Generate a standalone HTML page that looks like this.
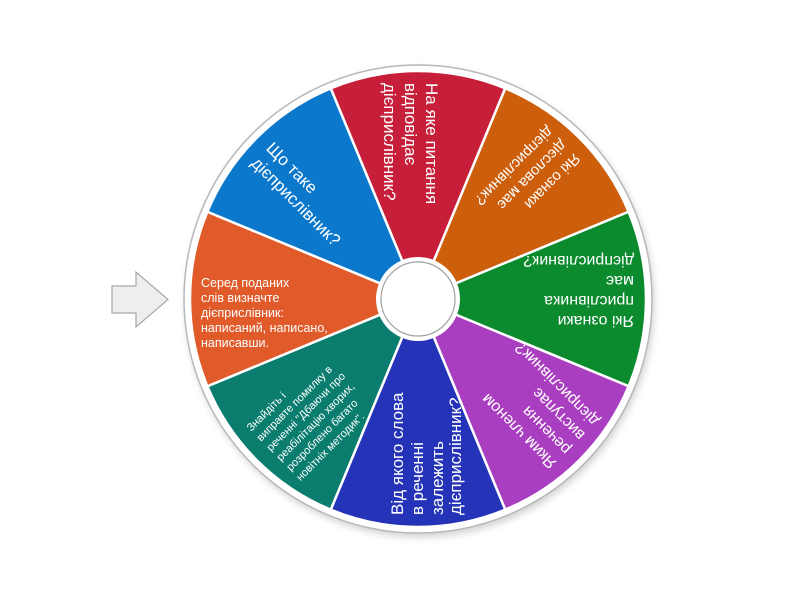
<!DOCTYPE html>
<html><head><meta charset="utf-8">
<style>
html,body{margin:0;padding:0;background:#fff;width:800px;height:600px;overflow:hidden}
svg text{font-family:"Liberation Sans","DejaVu Sans",sans-serif;fill:#fff}
</style></head>
<body>
<svg width="800" height="600" viewBox="0 0 800 600" xmlns="http://www.w3.org/2000/svg">
<defs>
<filter id="sh" x="-20%" y="-20%" width="140%" height="140%"><feGaussianBlur stdDeviation="4"/></filter>
</defs>
<polygon points="112,286 136,286 136,272 168,299.5 136,327 136,313 112,313" fill="#eeeeee" stroke="#a8a8a8" stroke-width="1.2"/>
<circle cx="420" cy="303" r="234" fill="#000" opacity="0.18" filter="url(#sh)"/>
<circle cx="418" cy="299" r="234" fill="#fff" stroke="#b8b8b8" stroke-width="1.5"/>
<g stroke="#fff" stroke-width="2.5">
<path d="M418,299 L330.75,88.36 A228,228 0 0 1 505.25,88.36 Z" fill="#c71e3a"/>
<path d="M418,299 L330.75,88.36 A228,228 0 0 1 505.25,88.36 Z" fill="#cc5e0c" transform="rotate(45 418 299)"/>
<path d="M418,299 L330.75,88.36 A228,228 0 0 1 505.25,88.36 Z" fill="#0b8a2e" transform="rotate(90 418 299)"/>
<path d="M418,299 L330.75,88.36 A228,228 0 0 1 505.25,88.36 Z" fill="#a93fc0" transform="rotate(135 418 299)"/>
<path d="M418,299 L330.75,88.36 A228,228 0 0 1 505.25,88.36 Z" fill="#2533b8" transform="rotate(180 418 299)"/>
<path d="M418,299 L330.75,88.36 A228,228 0 0 1 505.25,88.36 Z" fill="#0b7d6e" transform="rotate(225 418 299)"/>
<path d="M418,299 L330.75,88.36 A228,228 0 0 1 505.25,88.36 Z" fill="#e05a2a" transform="rotate(270 418 299)"/>
<path d="M418,299 L330.75,88.36 A228,228 0 0 1 505.25,88.36 Z" fill="#0b78cc" transform="rotate(315 418 299)"/>
</g>
<g transform="rotate(90 418 299)" font-size="17">
<text x="202" y="291">На яке питання</text>
<text x="202" y="312">відповідає</text>
<text x="202" y="333">дієприслівник?</text>
</g>
<g transform="rotate(135 418 299)" font-size="15">
<text x="204" y="292">Які ознаки</text>
<text x="204" y="311">дієслова має</text>
<text x="204" y="330">дієприслівник?</text>
</g>
<g transform="rotate(180 418 299)" font-size="16">
<text x="202" y="282">Які ознаки</text>
<text x="202" y="302">прислівника</text>
<text x="202" y="322">має</text>
<text x="202" y="342">дієприслівник?</text>
</g>
<g transform="rotate(225 418 299)" font-size="16">
<text x="204" y="282">Яким членом</text>
<text x="204" y="302">речення</text>
<text x="204" y="322">виступає</text>
<text x="204" y="342">дієприслівник?</text>
</g>
<g transform="rotate(270 418 299)" font-size="17">
<text x="202" y="284">Від якого слова</text>
<text x="202" y="304">в реченні</text>
<text x="202" y="324">залежить</text>
<text x="202" y="342">дієприслівник?</text>
</g>
<g transform="rotate(315 418 299)" font-size="11">
<text x="206" y="275">Знайдіть і</text>
<text x="206" y="289">виправте помилку в</text>
<text x="206" y="303">реченні "Дбаючи про</text>
<text x="206" y="317">реабілітацію хворих,</text>
<text x="206" y="331">розроблено багато</text>
<text x="206" y="345">новітніх методик".</text>
</g>
<g font-size="12.5">
<text x="201" y="287">Серед поданих</text>
<text x="201" y="302">слів визначте</text>
<text x="201" y="317">дієприслівник:</text>
<text x="201" y="332">написаний, написано,</text>
<text x="201" y="347">написавши.</text>
</g>
<g transform="rotate(45 418 299)" font-size="17">
<text x="204" y="301">Що таке</text>
<text x="204" y="322">дієприслівник?</text>
</g>
<circle cx="418" cy="299" r="42" fill="#fff"/>
<circle cx="418" cy="299" r="37" fill="#fff" stroke="#a0a0a0" stroke-width="1.2"/>
</svg>
</body></html>
